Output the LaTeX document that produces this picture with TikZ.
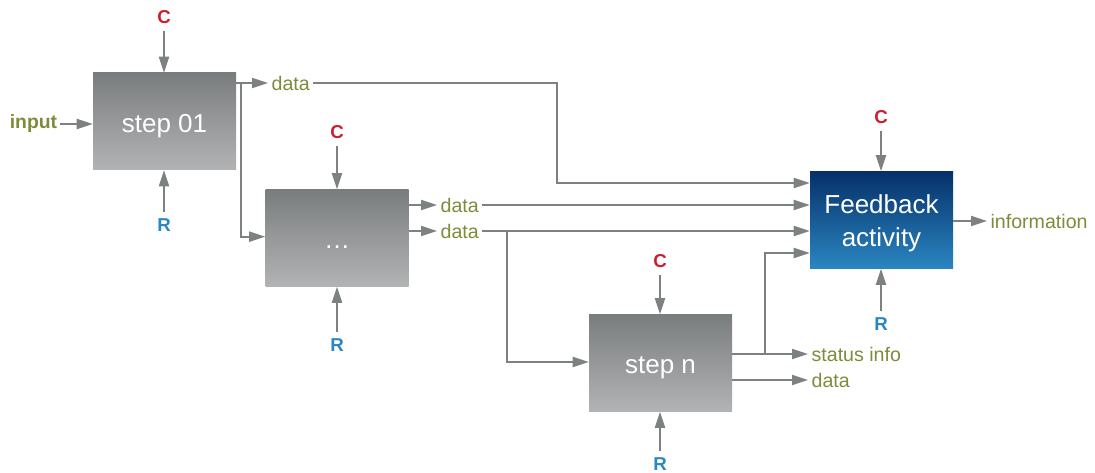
\documentclass[tikz,border=0pt]{standalone}
\usepackage{fontspec}
\setmainfont{Liberation Sans}
\usetikzlibrary{arrows.meta,calc}
\definecolor{linegrey}{HTML}{7E8181}
\definecolor{olive}{HTML}{7D8B3A}
\definecolor{cred}{HTML}{CC1F2E}
\definecolor{rblue}{HTML}{2A87C4}
\definecolor{boxtop}{HTML}{7A7D7E}
\definecolor{boxbot}{HTML}{B2B3B5}
\definecolor{fbtop}{HTML}{06306A}
\definecolor{fbbot}{HTML}{2A86C1}
\tikzset{
  stepbox/.style={minimum width=107.25pt, minimum height=72.75pt, inner sep=0pt,
    top color=boxtop, bottom color=boxbot, draw=none, text=white,
    text height=16.5pt, text depth=0pt,
    font=\fontsize{19.5}{22}\selectfont},
  fbbox/.style={minimum width=107.25pt, minimum height=72.75pt, inner sep=0pt,
    top color=fbtop, bottom color=fbbot, draw=none, text=white, align=center,
    font=\fontsize{19.5}{24.5}\selectfont},
  lab/.style={inner sep=2.5pt, text=olive, font=\fontsize{14.7}{16}\selectfont},
  inlab/.style={inner sep=2pt, text=olive, font=\fontsize{14.5}{16}\selectfont\bfseries},
  clab/.style={inner sep=5pt, text=cred, font=\fontsize{14}{16}\selectfont\bfseries},
  rlab/.style={inner sep=5pt, text=rblue, font=\fontsize{14}{16}\selectfont\bfseries},
  arr/.style={draw=linegrey, line width=1.5pt, -{Triangle[length=12pt,width=7.5pt]}},
}
\begin{document}
\begin{tikzpicture}[x=0.75pt,y=-0.75pt]
\useasboundingbox (0,0) rectangle (1095,473);
% boxes
\node[stepbox] (s1) at (164.5,121.5) {step 01};
\node[stepbox] (s2) at (337,238) {…};
\node[stepbox] (sn) at (660.5,363) {step n};
\node[fbbox] (fb) at (881.5,220) {\rule{0pt}{18.7pt}Feedback\\activity};
% C / R labels
\node[clab] (c1) at (164,17) {C};
\node[rlab] (r1) at (164,225) {R};
\node[clab] (c2) at (337,132) {C};
\node[rlab] (r2) at (337,345) {R};
\node[clab] (c3) at (660,261) {C};
\node[rlab] (r3) at (660,464) {R};
\node[clab] (c4) at (881,117) {C};
\node[rlab] (r4) at (881,324) {R};
\foreach \c/\b in {c1/s1,c2/s2,c3/sn,c4/fb}{
  \draw[arr] (\c.south) -- (\c.south |- \b.north);
}
\foreach \r/\b in {r1/s1,r2/s2,r3/sn,r4/fb}{
  \draw[arr] (\r.north) -- (\r.north |- \b.south);
}
% input
\node[inlab, anchor=east] (in) at (60,124) {input};
\draw[arr] (in.east) -- (in.east -| s1.west);
% data labels
\node[lab, anchor=west] (d1) at (268,83) {data};
\node[lab, anchor=west] (d2) at (437,205) {data};
\node[lab, anchor=west] (d3) at (437,231) {data};
\node[lab, anchor=west] (st) at (808,354) {status info};
\node[lab, anchor=west] (d4) at (808,380) {data};
\node[lab, anchor=west] (inf) at (987,221) {information};
% junction coordinates
\coordinate (b1) at (241,83);
\coordinate (j1) at (557,183);
\coordinate (b2) at (507,231);
\coordinate (b3) at (765,354);
\coordinate (j3) at (765,253);
% step 01 outputs
\draw[arr] (d1.west -| s1.east) -- (d1.west);
\draw[arr] (b1) |- ([yshift=1pt]s2.west);
\draw[arr] (d1.east) -| (j1) -- (j1 -| fb.west);
% ... outputs
\draw[arr] (d2.west -| s2.east) -- (d2.west);
\draw[arr] (d3.west -| s2.east) -- (d3.west);
\draw[arr] (d2.east) -- (d2.east -| fb.west);
\draw[arr] (d3.east) -- (d3.east -| fb.west);
\draw[arr] (b2) |- ([yshift=0.75pt]sn.west);
% step n outputs
\draw[arr] (st.west -| sn.east) -- (st.west);
\draw[arr] (d4.west -| sn.east) -- (d4.west);
\draw[arr] (b3) -- (j3) -- (j3 -| fb.west);
% feedback output
\draw[arr] (inf.west -| fb.east) -- (inf.west);
\end{tikzpicture}
\end{document}
